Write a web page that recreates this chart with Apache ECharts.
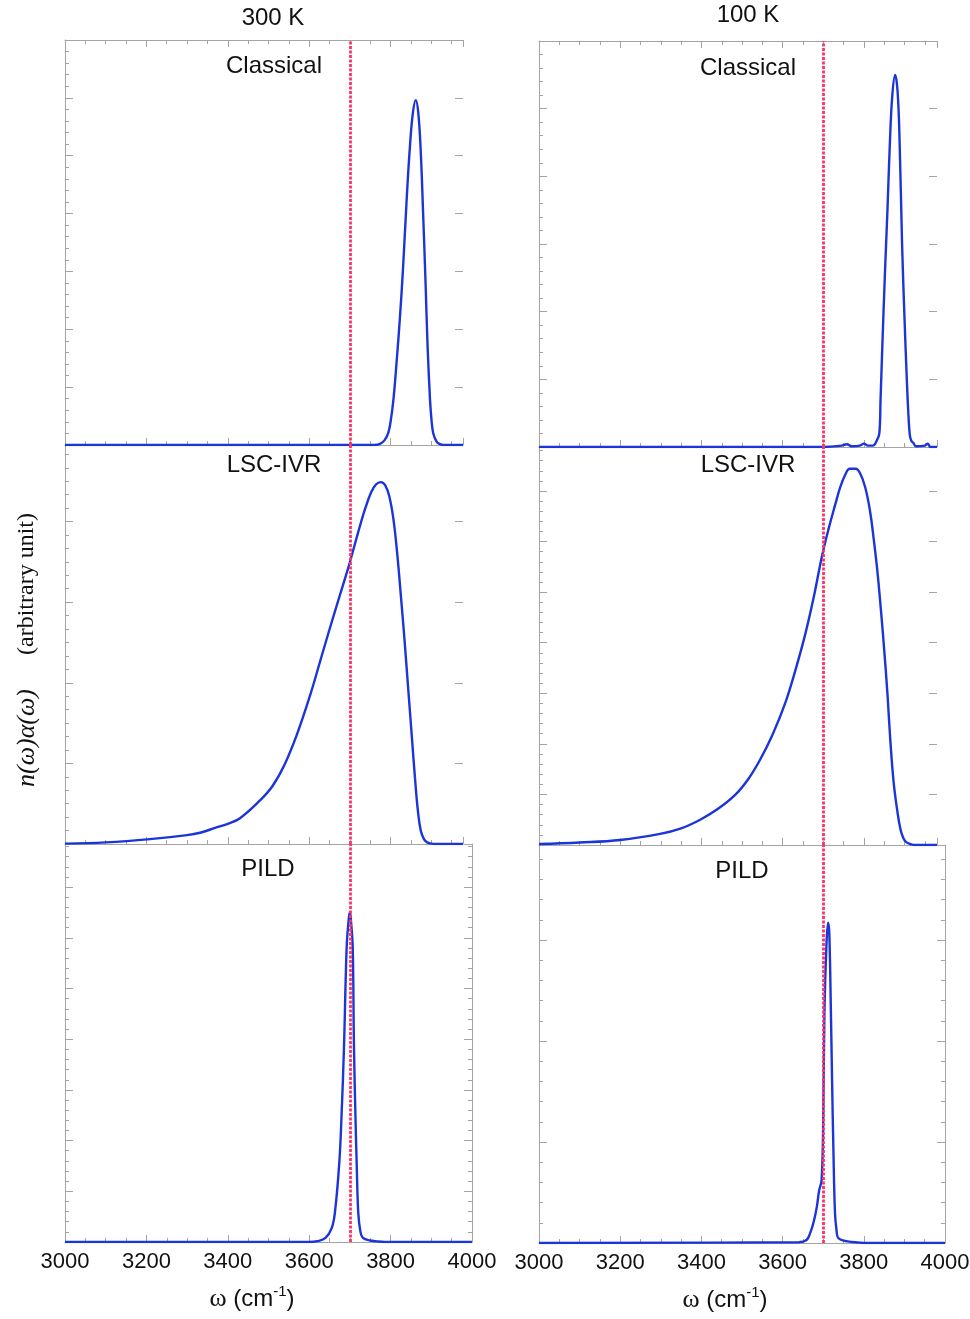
<!DOCTYPE html>
<html><head><meta charset="utf-8">
<script src="https://cdn.jsdelivr.net/npm/echarts@6/dist/echarts.min.js"></script>
<style>html,body{margin:0;padding:0;background:#fff}#c{width:970px;height:1319px}</style>
</head><body><div id="c"></div>
<script>
// ---------- data ----------
const xTicks = ['3000', '3200', '3400', '3600', '3800', '4000'];
const refFreq = 3700;
const columnTitles = ['300 K', '100 K'];
const panelNames = ['Classical', 'LSC-IVR', 'PILD'];
const xName = 'ω (cm-1)';
const yName = 'n(ω)α(ω)  (arbitrary unit)';

// [frequency cm-1, intensity (arbitrary, in panel tick units)]
const classical300 = [[3000,0],[3760,0],[3774,0.02],[3785,0.08],[3794,0.2],[3800,0.4],[3807,0.78],[3815,1.45],[3823,2.2],[3831,3.1],[3840,4.3],[3848,5.2],[3855,5.75],[3862,5.96],[3868,5.75],[3874,5.1],[3880,4.0],[3886,2.8],[3891,1.7],[3897,0.78],[3901,0.4],[3905,0.2],[3913,0.06],[3920,0.02],[3930,0],[3978,0]];
const lsc300 = [[3000,0.005],[3100,0.02],[3209,0.06],[3300,0.11],[3332,0.14],[3369,0.2],[3400,0.25],[3430,0.32],[3479,0.54],[3510,0.72],[3540,0.99],[3570,1.36],[3602,1.84],[3630,2.32],[3651,2.68],[3675,3.08],[3698,3.46],[3720,3.86],[3737,4.15],[3752,4.36],[3764,4.46],[3776,4.49],[3787,4.45],[3797,4.31],[3807,4.03],[3816,3.62],[3825,3.1],[3834,2.55],[3843,1.95],[3852,1.35],[3860,0.82],[3867,0.42],[3874,0.17],[3882,0.06],[3890,0.02],[3900,0.005],[3910,0],[3978,0]];
const pild300 = [[3000,0],[3600,0],[3620,0.016],[3640,0.08],[3655,0.27],[3663,0.57],[3674,1.57],[3680,2.6],[3685.5,3.85],[3692,5.8],[3697,6.36],[3700,6.51],[3703,6.3],[3707,5.8],[3710,3.85],[3714,2.36],[3716.6,1.57],[3720.6,0.57],[3726,0.2],[3732,0.08],[3750,0.03],[3770,0.01],[3800,0],[4000,0]];
const classical100 = [[3000,0],[3700,0],[3745,0.02],[3758,0.04],[3770,0.01],[3790,0.02],[3800,0.05],[3810,0.02],[3822,0.02],[3832,0.1],[3838,0.2],[3841,0.7],[3846,1.6],[3852,2.6],[3858,3.5],[3864,4.5],[3870,5.2],[3877,5.5],[3883,5.25],[3888,4.5],[3894,3.0],[3900,1.9],[3905,1.1],[3909,0.55],[3913,0.18],[3917,0.09],[3922,0.06],[3928,0.01],[3950,0.02],[3957,0.05],[3964,0],[3980,0]];
const lsc100 = [[3000,0.02],[3100,0.05],[3200,0.1],[3298,0.22],[3350,0.33],[3397,0.5],[3440,0.71],[3483,0.99],[3515,1.3],[3544,1.68],[3575,2.18],[3606,2.8],[3630,3.42],[3655,4.15],[3677,4.92],[3697,5.72],[3714,6.28],[3729,6.72],[3742,7.08],[3754,7.32],[3765,7.44],[3780,7.44],[3790,7.36],[3803,7.08],[3815,6.61],[3824,6.06],[3833,5.43],[3842,4.64],[3850,3.86],[3858,2.99],[3865,2.08],[3873,1.26],[3882,0.69],[3890,0.31],[3897,0.14],[3905,0.05],[3914,0.02],[3925,0],[3980,0]];
const pild100 = [[3000,0],[3640,0.008],[3659,0.03],[3668,0.1],[3676,0.2],[3684,0.35],[3690,0.52],[3696,0.62],[3700,1.2],[3703,2.28],[3708,2.95],[3712,3.17],[3715,3.07],[3719,2.28],[3722,1.58],[3725,0.95],[3729,0.3],[3733,0.12],[3737,0.05],[3760,0.016],[3790,0.004],[3800,0],[4000,0]];

// ---------- layout & style ----------
const seriesData = [classical300, lsc300, pild300, classical100, lsc100, pild100];
const layout = [
  {col:0,row:0,left:65, top:40, width:398,height:405,xmax:3978,ymax:7,   yminor:5, lx:274,ly:66},
  {col:0,row:1,left:65, top:445,width:398,height:399,xmax:3978,ymax:4.95,yminor:6, lx:274,ly:465},
  {col:0,row:2,left:65, top:844,width:407,height:398,xmax:4000,ymax:7.85,yminor:5, lx:268,ly:869},
  {col:1,row:0,left:539,top:41, width:398,height:406,xmax:3980,ymax:6,   yminor:5, lx:748,ly:68},
  {col:1,row:1,left:539,top:447,width:398,height:398,xmax:3980,ymax:7.87,yminor:5, lx:748,ly:465},
  {col:1,row:2,left:539,top:845,width:406,height:398,xmax:4000,ymax:3.94,yminor:5, lx:742,ly:871}
];
const titlePos = [[273,18],[748,15]];
const xNamePos = [[252,1299],[725,1300]];
const gray = '#a4a4a4';
const blue = '#1b35d8';
const red = '#ff3366';
const sans = '"Liberation Sans", Arial, sans-serif';
const serif = '"Liberation Serif", "Times New Roman", serif';

const xMin = +xTicks[0];
const xStep = xTicks[1] - xTicks[0];

const grids = [], xAxes = [], yAxes = [], series = [], graphics = [];

layout.forEach((p, i) => {
  grids.push({left:p.left, top:p.top, width:p.width, height:p.height,
    containLabel:false, outerBoundsMode:'none'});
  const bottomRow = p.row === 2;
  const mkX = (pos, major, line, labels) => ({
    type:'value', gridIndex:i, position:pos, min:xMin, max:p.xmax,
    interval: major ? xStep : xStep / 4,
    axisLine:{show:line, onZero:false, lineStyle:{color:gray, width:1}},
    axisTick:{show:true, inside:true, length: major ? 7 : 4, lineStyle:{color:gray, width:1}},
    minorTick:{show:false},
    axisLabel:{show:labels, margin:9, fontSize:22, color:'#111', fontFamily:sans,
      showMinLabel:true, showMaxLabel:true, hideOverlap:false,
      formatter: v => xTicks.includes(String(v)) ? String(v) : ''},
    splitLine:{show:false}
  });
  const xi = xAxes.length;
  xAxes.push(mkX('bottom', true, true, bottomRow));
  xAxes.push(mkX('bottom', false, false, false));
  if (p.row === 0) {
    xAxes.push(mkX('top', true, true, false));
    xAxes.push(mkX('top', false, false, false));
  }
  const yi = yAxes.length;
  yAxes.push({
    type:'value', gridIndex:i, position:'left', min:0, max:p.ymax, interval:1,
    axisLine:{show:true, onZero:false, lineStyle:{color:gray, width:1}},
    axisTick:{show:true, inside:true, length:8, lineStyle:{color:gray}},
    minorTick:{show:true, splitNumber:p.yminor, length:4, lineStyle:{color:gray}},
    axisLabel:{show:false}, splitLine:{show:false}, minorSplitLine:{show:false}
  });
  yAxes.push({
    type:'value', gridIndex:i, position:'right', min:0, max:p.ymax, interval:1,
    axisLine:{show:bottomRow, onZero:false, lineStyle:{color:gray, width:1}},
    axisTick:{show:true, inside:true, length:8, lineStyle:{color: gray}},
    minorTick:{show:bottomRow, splitNumber:p.yminor, length:4, lineStyle:{color:gray}},
    axisLabel:{show:false}, splitLine:{show:false}, minorSplitLine:{show:false}
  });
  series.push({
    type:'line', xAxisIndex:xi, yAxisIndex:yi, data:seriesData[i],
    showSymbol:false, smooth:0.4, clip:true, z:3,
    lineStyle:{color:blue, width:2.4},
    markLine:{
      silent:true, symbol:['none','none'], label:{show:false}, z:6,
      lineStyle:{color:red, type:[3,1.5], width:2.8, opacity:1},
      emphasis:{disabled:true},
      data:[{xAxis:refFreq}]
    }
  });
  graphics.push({type:'text', x:p.lx, y:p.ly, style:{
    text:panelNames[p.row], font:'24px ' + sans, fill:'#111',
    align:'center', verticalAlign:'middle', textAlign:'center', textVerticalAlign:'middle'}});
});

columnTitles.forEach((t, c) => {
  graphics.push({type:'text', x:titlePos[c][0], y:titlePos[c][1], style:{
    text:t, font:'24px ' + sans, fill:'#111',
    align:'center', verticalAlign:'middle', textAlign:'center', textVerticalAlign:'middle'}});
  const parts = xName.match(/^(ω) \((cm)(-1)\)$/);
  graphics.push({type:'text', x:xNamePos[c][0], y:xNamePos[c][1], style:{
    text:'{w|' + parts[1] + '}{a| (' + parts[2] + '}{s|' + parts[3] + '}{a|)}',
    fill:'#111', align:'center', verticalAlign:'middle', textAlign:'center', textVerticalAlign:'middle',
    rich:{
      w:{fontFamily:serif, fontSize:26, lineHeight:30, fill:'#111'},
      a:{fontFamily:sans, fontSize:24, lineHeight:30, fill:'#111'},
      s:{fontFamily:sans, fontSize:15, lineHeight:14, verticalAlign:'top', fill:'#111'}
    }}});
});

const yParts = yName.split('  ');
graphics.push({type:'text', x:27, y:650, rotation:Math.PI/2, style:{
  text:'{i|' + yParts[0] + '}{g|}{u|' + yParts[1] + '}',
  fill:'#111', align:'center', verticalAlign:'middle', textAlign:'center', textVerticalAlign:'middle',
  rich:{
    i:{fontFamily:serif, fontStyle:'italic', fontSize:26, fill:'#111'},
    g:{width:34},
    u:{fontFamily:serif, fontSize:24, fill:'#111'}
  }}});

const chart = echarts.init(document.getElementById('c'), null, {renderer:'canvas'});
chart.setOption({
  animation:false,
  backgroundColor:'#fff',
  grid:grids, xAxis:xAxes, yAxis:yAxes, series:series, graphic:graphics
});
</script></body></html>
